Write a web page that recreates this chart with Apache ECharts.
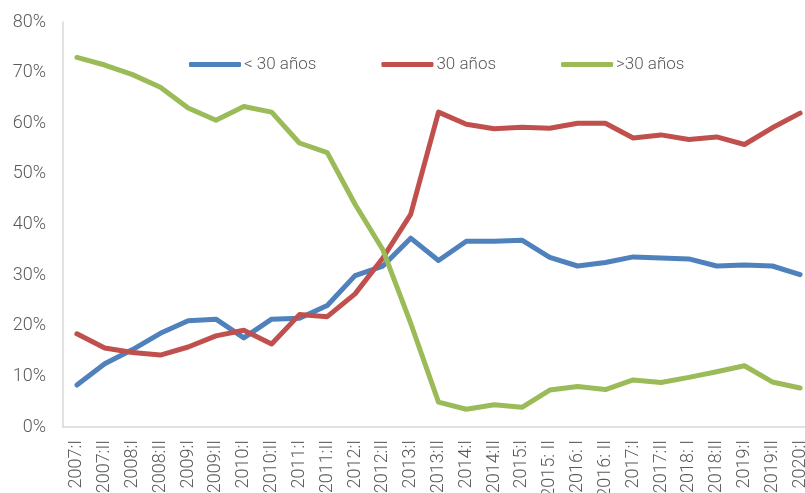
<!DOCTYPE html>
<html>
<head>
<meta charset="utf-8">
<script src="https://cdn.jsdelivr.net/npm/echarts@6/dist/echarts.min.js"></script>
<style>
  html, body { margin: 0; padding: 0; background: #fff; }
  #main { width: 805px; height: 493px; }
</style>
</head>
<body>
<div id="main"></div>
<script>
// periodos semestrales
var categories = ['2007:I', '2007:II', '2008:I', '2008:II', '2009:I', '2009:II', '2010:I', '2010:II',
    '2011:I', '2011:II', '2012:I', '2012:II', '2013:I', '2013:II', '2014:I', '2014:II', '2015:I',
    '2015: II', '2016: I', '2016: II', '2017:I', '2017:II', '2018: I', '2018:II', '2019:I', '2019:II', '2020:I'];

var menos30 = [8.3, 12.5, 15.3, 18.5, 21.0, 21.3, 17.6, 21.3, 21.5, 24.0, 29.9, 31.8, 37.3, 32.9,
    36.7, 36.7, 36.9, 33.5, 31.8, 32.5, 33.6, 33.4, 33.2, 31.8, 32.0, 31.8, 30.1];
var igual30 = [18.4, 15.6, 14.7, 14.2, 15.8, 18.0, 19.1, 16.4, 22.2, 21.8, 26.3, 33.4, 42.0, 62.2,
    59.8, 58.9, 59.2, 59.0, 60.0, 60.0, 57.1, 57.7, 56.8, 57.3, 55.8, 59.1, 62.0];
var mas30 = [73.0, 71.5, 69.6, 67.1, 63.0, 60.6, 63.3, 62.2, 56.1, 54.2, 44.0, 35.0, 20.5, 4.9,
    3.5, 4.4, 3.9, 7.3, 8.0, 7.4, 9.3, 8.8, 9.8, 10.9, 12.1, 8.9, 7.7];

var seriesNames = ['< 30 años', '30 años', '>30 años'];
var colors = ['#4f81bd', '#c0504d', '#9bbb59'];

var myChart = echarts.init(document.getElementById('main'));

function lineSerie(name, data, color) {
    return {
        name: name,
        type: 'line',
        data: data,
        symbol: 'none',
        lineStyle: { width: 5, color: color, cap: 'round', join: 'round' },
        itemStyle: { color: color }
    };
}

var option = {
    animation: false,
    textStyle: { fontFamily: 'Roboto', fontWeight: 300 },
    legend: {
        left: 184,
        top: 51,
        itemWidth: 52,
        itemHeight: 5,
        itemGap: 65,
        icon: 'roundRect',
        textStyle: { fontSize: 17, color: '#595959', fontFamily: 'Roboto', fontWeight: 300, padding: [0, 0, 0, -2] },
        data: seriesNames
    },
    grid: { left: 63, top: 22, width: 751, height: 405, containLabel: false, outerBoundsMode: 'none' },
    xAxis: {
        type: 'category',
        data: categories,
        boundaryGap: true,
        axisLine: { lineStyle: { color: '#d9d9d9', width: 1.5 } },
        axisTick: { show: false },
        axisLabel: {
            interval: 0,
            rotate: 90,
            margin: 13,
            fontSize: 18,
            color: '#595959',
            fontFamily: 'Roboto',
            fontWeight: 300
        }
    },
    yAxis: {
        type: 'value',
        min: 0,
        max: 80,
        interval: 10,
        axisLine: { show: true, lineStyle: { color: '#d9d9d9', width: 1.5 } },
        axisTick: { show: false },
        splitLine: { show: false },
        axisLabel: {
            formatter: '{value}%',
            margin: 17,
            fontSize: 18,
            color: '#595959',
            fontFamily: 'Roboto',
            fontWeight: 300
        }
    },
    series: [
        lineSerie(seriesNames[0], menos30, colors[0]),
        lineSerie(seriesNames[1], igual30, colors[1]),
        lineSerie(seriesNames[2], mas30, colors[2])
    ]
};
myChart.setOption(option);
</script>
</body>
</html>
